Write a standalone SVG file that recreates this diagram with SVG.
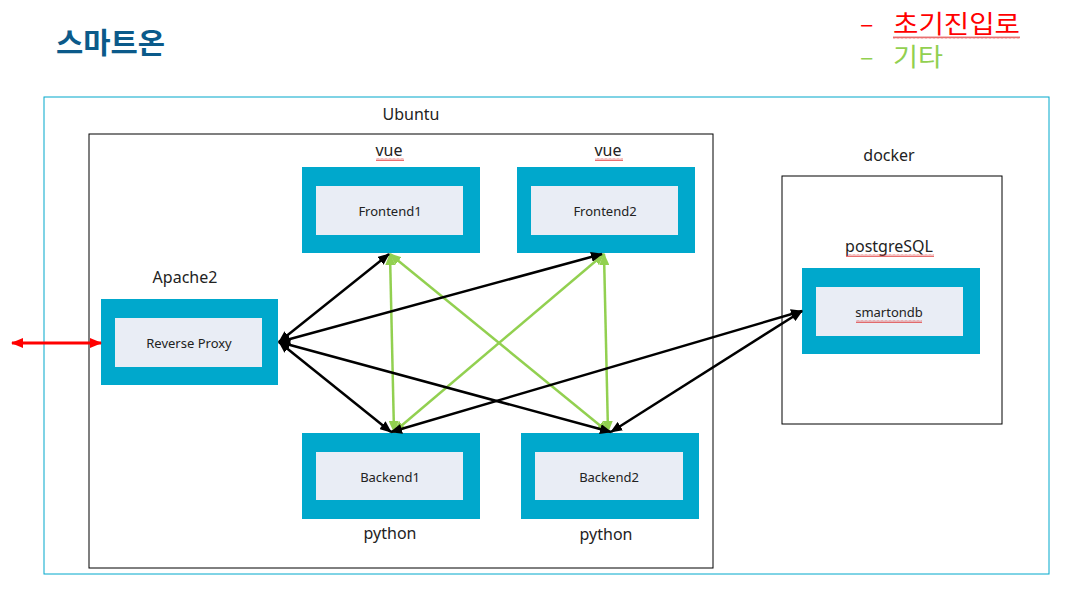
<svg xmlns="http://www.w3.org/2000/svg" width="1084" height="602" viewBox="0 0 1084 602">
<style>
.outer{fill:#00a8cc}
.inner{fill:#e9edf5}
.lbl{font-family:"Noto Sans","Noto Sans CJK KR",sans-serif;font-size:16px;fill:#222;text-anchor:middle}
.in{font-family:"Noto Sans","Noto Sans CJK KR",sans-serif;font-size:13px;fill:#222;text-anchor:middle}
.leg{font-family:"Noto Sans CJK KR",sans-serif;font-size:25px}
.blk{stroke:#000;stroke-width:2.5;fill:none;marker-start:url(#ab);marker-end:url(#ab)}
.grn{stroke:#92d050;stroke-width:2.5;fill:none;marker-start:url(#ag);marker-end:url(#ag)}
.red{stroke:#ff0000;stroke-width:3;fill:none;marker-start:url(#ar);marker-end:url(#ar)}
.sq{fill:url(#squig)}
</style>
<defs>
<marker id="ab" viewBox="0 0 12 10" refX="11" refY="5" markerWidth="12" markerHeight="10" markerUnits="userSpaceOnUse" orient="auto-start-reverse"><path d="M0,0 L12,5 L0,10 z" fill="#000"/></marker>
<marker id="ag" viewBox="0 0 12 10" refX="11" refY="5" markerWidth="12" markerHeight="10" markerUnits="userSpaceOnUse" orient="auto-start-reverse"><path d="M0,0 L12,5 L0,10 z" fill="#92d050"/></marker>
<marker id="ar" viewBox="0 0 12 10" refX="11" refY="5" markerWidth="12" markerHeight="10" markerUnits="userSpaceOnUse" orient="auto-start-reverse"><path d="M0,0 L12,5 L0,10 z" fill="#ff0000"/></marker>
<pattern id="squig" width="4" height="3" patternUnits="userSpaceOnUse"><path d="M0,2.5 L1,0.5 L2,2.5 L3,0.5 L4,2.5" stroke="#e03030" stroke-width="0.7" fill="none"/></pattern>
</defs>
<rect width="1084" height="602" fill="#fff"/>

<g id="title">
<text x="56" y="54" font-family="'Noto Sans CJK KR',sans-serif" font-size="29" font-weight="bold" fill="#0b5a8a" textLength="109" lengthAdjust="spacingAndGlyphs">스마트온</text>
</g>
<g id="legend">
<text class="leg" x="860" y="33" fill="#ff0000">–</text>
<text class="leg" x="893" y="33" fill="#ff0000" textLength="127" lengthAdjust="spacingAndGlyphs">초기진입로</text>
<rect class="sq" x="893" y="36" width="127" height="3"/>
<text class="leg" x="860" y="66" fill="#92d050">–</text>
<text class="leg" x="893" y="66" fill="#92d050" textLength="50" lengthAdjust="spacingAndGlyphs">기타</text>
</g>

<g id="outer-frame"><rect x="44" y="97" width="1005" height="477" fill="none" stroke="#00a8cc" stroke-width="1"/></g>
<g id="ubuntu">
<rect x="89" y="134" width="624" height="434" fill="none" stroke="#000" stroke-width="1"/>
<text class="lbl" x="411" y="120">Ubuntu</text>
</g>
<g id="docker">
<rect x="782" y="176" width="220" height="248" fill="none" stroke="#000" stroke-width="1"/>
<text class="lbl" x="889" y="161">docker</text>
</g>

<g id="frontend1">
<text class="lbl" x="389" y="156">vue</text>
<rect class="sq" x="376" y="158" width="28" height="3"/>
<rect class="outer" x="302" y="167" width="178" height="86"/>
<rect class="inner" x="316" y="186" width="147" height="49"/>
<text class="in" x="390" y="216">Frontend1</text>
</g>
<g id="frontend2">
<text class="lbl" x="608" y="156">vue</text>
<rect class="sq" x="595" y="158" width="28" height="3"/>
<rect class="outer" x="517" y="167" width="178" height="86"/>
<rect class="inner" x="531" y="186" width="147" height="49"/>
<text class="in" x="605" y="216">Frontend2</text>
</g>
<g id="reverse-proxy">
<text class="lbl" x="185" y="283">Apache2</text>
<rect class="outer" x="101" y="299" width="177" height="86"/>
<rect class="inner" x="115" y="318" width="147" height="49"/>
<text class="in" x="189" y="348">Reverse Proxy</text>
</g>
<g id="backend1">
<rect class="outer" x="302" y="433" width="178" height="86"/>
<rect class="inner" x="316" y="452" width="147" height="48"/>
<text class="in" x="390" y="482">Backend1</text>
<text class="lbl" x="390" y="539">python</text>
</g>
<g id="backend2">
<rect class="outer" x="521" y="433" width="178" height="86"/>
<rect class="inner" x="535" y="452" width="148" height="48"/>
<text class="in" x="609" y="482">Backend2</text>
<text class="lbl" x="606" y="540">python</text>
</g>
<g id="smartondb">
<text class="lbl" x="889" y="252">postgreSQL</text>
<rect class="sq" x="846" y="254" width="88" height="3"/>
<rect class="outer" x="802" y="268" width="178" height="86"/>
<rect class="inner" x="816" y="287" width="147" height="49"/>
<text class="in" x="889" y="317">smartondb</text>
<rect class="sq" x="856" y="320" width="66" height="3"/>
</g>

<g id="connectors">
<line class="red" x1="12" y1="343" x2="101" y2="343"/>
<line class="grn" x1="390" y1="254" x2="394" y2="432"/>
<line class="grn" x1="390" y1="254" x2="608" y2="432"/>
<line class="grn" x1="604" y1="254" x2="394" y2="432"/>
<line class="grn" x1="604" y1="254" x2="608" y2="432"/>
<line class="blk" x1="279" y1="342" x2="389" y2="254"/>
<line class="blk" x1="279" y1="342" x2="602" y2="254"/>
<line class="blk" x1="279" y1="342" x2="391" y2="432"/>
<line class="blk" x1="279" y1="342" x2="611" y2="432"/>
<line class="blk" x1="391" y1="432" x2="802" y2="311"/>
<line class="blk" x1="611" y1="432" x2="802" y2="311"/>
</g>
</svg>
